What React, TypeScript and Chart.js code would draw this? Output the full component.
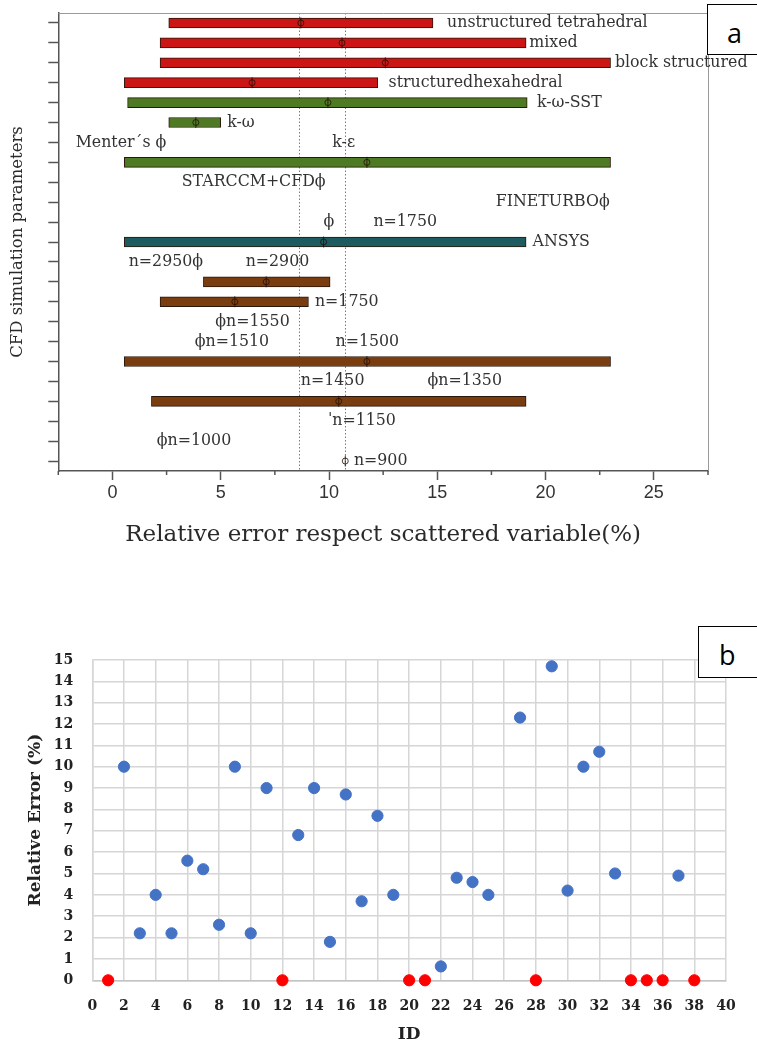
import { useEffect, useRef } from 'react';
import { Chart, registerables } from 'chart.js';

Chart.register(...registerables);

// ---------- panel a: ranges of relative error per CFD setting ----------
const categories = [
  'unstructured tetrahedral', 'mixed', 'block structured', 'structured hexahedral',
  'k-ω-SST', 'k-ω', 'Menter´s / k-ε', 'k-ε (all)', 'STARCCM+CFD', 'FINETURBO',
  'ANSYS n=1750', 'ANSYS', 'n=2950 / n=2900', 'n=2900', 'n=1750', 'n=1550',
  'n=1510 / n=1500', 'n=1500', 'n=1450 / n=1350', 'n=1350', 'n=1150', 'n=1000', 'n=900',
];

const barRows = [0, 1, 2, 3, 4, 5, 7, 11, 13, 14, 17, 19];
const barStarts = [2.6, 2.2, 2.2, 0.55, 0.7, 2.6, 0.55, 0.55, 4.2, 2.2, 0.55, 1.8];
const barEnds = [14.8, 19.1, 23.0, 12.25, 19.15, 5.0, 23.0, 19.1, 10.05, 9.05, 23.0, 19.1];
const barMeans = [8.7, 10.6, 12.6, 6.45, 9.95, 3.85, 11.75, 9.75, 7.1, 5.65, 11.75, 10.45];
const barGroups = ['mesh', 'mesh', 'mesh', 'mesh', 'turb', 'turb', 'turb', 'code', 'grid', 'grid', 'grid', 'grid'];

// single mean markers without a range bar
const soloRows = [22];
const soloMeans = [10.75];

// dotted reference lines
const refLines = [8.6, 10.75];

const noteTexts = [
  'unstructured tetrahedral', 'mixed', 'block structured', 'structuredhexahedral', 'k-ω-SST',
  'k-ω', 'Menter´s ϕ', 'k-ε', 'STARCCM+CFDϕ', 'FINETURBOϕ', 'ϕ', 'n=1750', 'ANSYS',
  'n=2950ϕ', 'n=2900', 'n=1750', 'ϕn=1550', 'ϕn=1510', 'n=1500', 'n=1450', 'ϕn=1350',
  'ˈn=1150', 'ϕn=1000', 'n=900',
];
const noteRows = [0, 1, 2, 3, 4, 5, 6, 6, 8, 9, 10, 10, 11, 12, 12, 14, 15, 16, 16, 18, 18, 20, 21, 22];
const noteX = [15.45, 19.25, 23.2, 12.75, 19.6, 5.3, -1.7, 10.15, 3.2, 17.7, 9.75, 12.05, 19.4,
  0.75, 6.15, 9.35, 4.75, 3.8, 10.3, 8.7, 14.55, 9.95, 2.05, 11.15];

const xTickStep = 2.5;
const xLabelStep = 5;

// ---------- panel b: relative error per case ID ----------
const blueIds = [2, 3, 4, 5, 6, 7, 8, 9, 10, 11, 13, 14, 15, 16, 17, 18, 19, 22, 23, 24, 25, 27, 29, 30, 31, 32, 33, 37];
const blueErrors = [10, 2.2, 4, 2.2, 5.6, 5.2, 2.6, 10, 2.2, 9, 6.8, 9, 1.8, 8.7, 3.7, 7.7, 4, 0.65, 4.8, 4.6, 4, 12.3, 14.7, 4.2, 10, 10.7, 5, 4.9];
const redIds = [1, 12, 20, 21, 28, 34, 35, 36, 38];
const redErrors = [0, 0, 0, 0, 0, 0, 0, 0, 0];

const groupFill: Record<string, string> = {
  mesh: '#cc1616',
  turb: '#4d7a22',
  code: '#1c5c60',
  grid: '#7a3d0f',
};

const serif = '"DejaVu Serif", serif';

const rangePanelPlugin = {
  id: 'rangePanel',
  beforeDatasetsDraw(chart: any) {
    const { ctx, chartArea, scales } = chart;
    const xs = scales.x;
    ctx.save();
    ctx.strokeStyle = '#7a7a7a';
    ctx.lineWidth = 1;
    ctx.setLineDash([1.5, 2]);
    refLines.forEach((v) => {
      const px = Math.round(xs.getPixelForValue(v)) + 0.5;
      ctx.beginPath();
      ctx.moveTo(px, chartArea.top);
      ctx.lineTo(px, chartArea.bottom);
      ctx.stroke();
    });
    ctx.restore();
  },
  afterDatasetsDraw(chart: any) {
    const { ctx, chartArea, scales } = chart;
    const xs = scales.x;
    const ys = scales.y;
    ctx.save();
    // top and right frame
    ctx.strokeStyle = '#9a9a9a';
    ctx.lineWidth = 1;
    ctx.beginPath();
    ctx.moveTo(chartArea.left, chartArea.top + 0.5);
    ctx.lineTo(chartArea.right + 0.5, chartArea.top + 0.5);
    ctx.lineTo(chartArea.right + 0.5, chartArea.bottom);
    ctx.stroke();

    // minor x ticks
    ctx.strokeStyle = '#555';
    ctx.lineWidth = 1.5;
    for (let v = xs.min; v <= xs.max + 1e-9; v += xTickStep) {
      if (Math.abs(v % xLabelStep) < 1e-9) continue;
      const px = xs.getPixelForValue(v);
      ctx.beginPath();
      ctx.moveTo(px, chartArea.bottom);
      ctx.lineTo(px, chartArea.bottom + 4);
      ctx.stroke();
    }

    // mean markers
    const marker = (v: number, row: number) => {
      const cx = xs.getPixelForValue(v);
      const cy = ys.getPixelForValue(row);
      ctx.strokeStyle = 'rgba(35,15,8,0.8)';
      ctx.lineWidth = 1;
      ctx.beginPath();
      ctx.arc(cx, cy, 3, 0, Math.PI * 2);
      ctx.stroke();
      ctx.beginPath();
      ctx.moveTo(cx, cy - 5.5);
      ctx.lineTo(cx, cy + 5.5);
      ctx.stroke();
    };
    barRows.forEach((r, i) => marker(barMeans[i], r));
    soloRows.forEach((r, i) => marker(soloMeans[i], r));

    // annotations
    ctx.fillStyle = '#333';
    ctx.font = `15.8px ${serif}`;
    ctx.textAlign = 'left';
    ctx.textBaseline = 'middle';
    noteTexts.forEach((t, i) => {
      ctx.fillText(t, xs.getPixelForValue(noteX[i]), ys.getPixelForValue(noteRows[i]));
    });
    ctx.restore();
  },
};

export default function App() {
  const topRef = useRef<HTMLCanvasElement>(null);
  const botRef = useRef<HTMLCanvasElement>(null);

  useEffect(() => {
    document.body.style.margin = '0';

    const barData = categories.map((_, r) => {
      const i = barRows.indexOf(r);
      return i < 0 ? null : [barStarts[i], barEnds[i]];
    });
    const barColors = categories.map((_, r) => {
      const i = barRows.indexOf(r);
      return i < 0 ? 'transparent' : groupFill[barGroups[i]];
    });

    const top = new Chart(topRef.current!, {
      type: 'bar',
      data: {
        labels: categories,
        datasets: [
          {
            data: barData as any,
            backgroundColor: barColors,
            borderColor: '#2a160c',
            borderWidth: 1,
            borderSkipped: false,
            barThickness: 10,
          },
        ],
      },
      options: {
        indexAxis: 'y',
        responsive: false,
        animation: false,
        layout: { padding: { left: 0, top: 13, right: 49, bottom: 0 } },
        plugins: { legend: { display: false }, tooltip: { enabled: false } },
        scales: {
          x: {
            type: 'linear',
            min: -2.5,
            max: 27.5,
            ticks: {
              stepSize: xTickStep,
              autoSkip: false,
              maxRotation: 0,
              padding: 2,
              color: '#333',
              font: { family: '"Liberation Sans", Arial, sans-serif', size: 18 },
              callback: (v: any) => (Math.abs(Number(v) % xLabelStep) < 1e-9 ? String(v) : ''),
            },
            grid: {
              drawOnChartArea: false,
              drawTicks: true,
              tickLength: 9,
              tickWidth: 1.5,
              tickColor: (c: any) =>
                c.tick && Math.abs(c.tick.value % xLabelStep) < 1e-9 ? '#555' : 'rgba(0,0,0,0)',
            },
            border: { color: '#555', width: 1.5 },
            title: {
              display: true,
              text: 'Relative error respect scattered variable(%)',
              color: '#2a2a2a',
              font: { family: serif, size: 23 },
              padding: { top: 0, bottom: 11 },
            },
            afterFit: (s: any) => {
              s.height = 89;
            },
          },
          y: {
            type: 'category',
            offset: true,
            ticks: { display: false },
            grid: {
              offset: false,
              drawOnChartArea: false,
              drawTicks: true,
              tickLength: 10,
              tickWidth: 1.5,
              tickColor: '#555',
            },
            border: { color: '#555', width: 1.5 },
            title: {
              display: true,
              text: 'CFD simulation parameters',
              color: '#2a2a2a',
              font: { family: serif, size: 16.5 },
              padding: { top: 8, bottom: 0 },
            },
            afterFit: (s: any) => {
              s.width = 58.3;
            },
          },
        },
      },
      plugins: [rangePanelPlugin],
    });

    const bot = new Chart(botRef.current!, {
      type: 'scatter',
      data: {
        datasets: [
          {
            data: blueIds.map((id, i) => ({ x: id, y: blueErrors[i] })),
            backgroundColor: '#4472c4',
            borderColor: '#4472c4',
            pointRadius: 5.6,
            clip: false as any,
          },
          {
            data: redIds.map((id, i) => ({ x: id, y: redErrors[i] })),
            backgroundColor: '#ff0000',
            borderColor: '#ff0000',
            pointRadius: 5.6,
            clip: false as any,
          },
        ],
      },
      options: {
        responsive: false,
        animation: false,
        layout: { padding: { left: 0, top: 89.9, right: 31, bottom: 0 } },
        plugins: { legend: { display: false }, tooltip: { enabled: false } },
        scales: {
          x: {
            type: 'linear',
            min: 0,
            max: 40,
            ticks: {
              stepSize: 2,
              autoSkip: false,
              maxRotation: 0,
              padding: 18,
              color: '#222',
              font: { family: serif, size: 14, weight: 'bold' },
            },
            grid: { color: '#d6d6d6', lineWidth: 1.5, drawTicks: false },
            border: { color: '#c4c4c4', width: 1.5 },
            title: {
              display: true,
              text: 'ID',
              color: '#222',
              font: { family: serif, size: 17, weight: 'bold' },
              padding: { top: 0, bottom: 3 },
            },
            afterFit: (s: any) => {
              s.height = 67.7;
            },
          },
          y: {
            type: 'linear',
            min: 0,
            max: 15,
            ticks: {
              stepSize: 1,
              padding: 19,
              color: '#222',
              font: { family: serif, size: 14, weight: 'bold' },
            },
            grid: { color: '#d6d6d6', lineWidth: 1.5, drawTicks: false },
            border: { color: '#d6d6d6', width: 1.5 },
            title: {
              display: true,
              text: 'Relative Error (%)',
              color: '#222',
              font: { family: serif, size: 17, weight: 'bold' },
              padding: { top: 25, bottom: 0 },
            },
            afterFit: (s: any) => {
              s.width = 92.3;
            },
          },
        },
      },
    });

    return () => {
      top.destroy();
      bot.destroy();
    };
  }, []);

  const boxStyle = {
    position: 'absolute' as const,
    width: 90,
    border: '1.5px solid #000',
    boxSizing: 'border-box' as const,
    background: '#fff',
  };
  const letterStyle = {
    position: 'absolute' as const,
    fontFamily: '"Open Sans", "Noto Sans", sans-serif',
    fontSize: 27,
    lineHeight: '27px',
    color: '#000',
  };

  return (
    <div style={{ position: 'absolute', left: 0, top: 0, width: 757, height: 1048, overflow: 'hidden', background: '#fff' }}>
      <canvas ref={topRef} width={757} height={560} style={{ position: 'absolute', left: 0, top: 0 }} />
      <canvas ref={botRef} width={757} height={478} style={{ position: 'absolute', left: 0, top: 570 }} />
      <div style={{ ...boxStyle, left: 707, top: 4, height: 51 }} />
      <div style={{ ...letterStyle, left: 727, top: 19 }}>a</div>
      <div style={{ ...boxStyle, left: 698, top: 626, height: 52 }} />
      <div style={{ ...letterStyle, left: 719, top: 641 }}>b</div>
    </div>
  );
}
